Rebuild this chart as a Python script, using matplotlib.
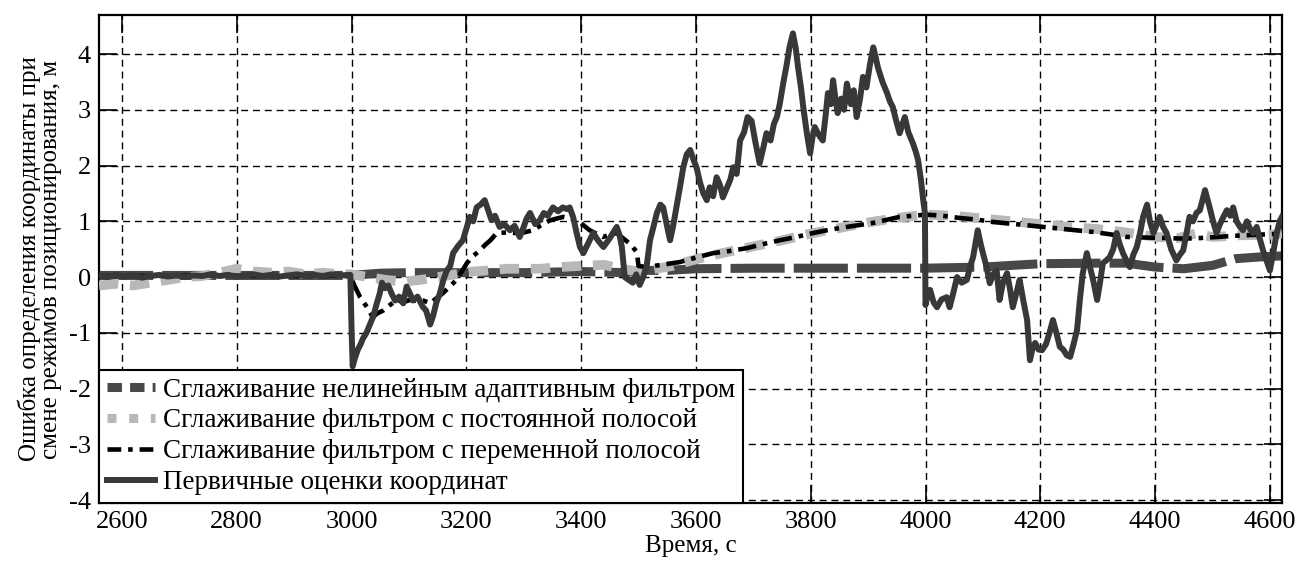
import matplotlib
matplotlib.use("Agg")
import matplotlib.pyplot as plt
from matplotlib.lines import Line2D

# --- шрифты ---
plt.rcParams['font.family'] = ['Liberation Serif', 'DejaVu Serif']
plt.rcParams['axes.unicode_minus'] = False

# ==========================================
# Данные
# ==========================================
# первичные оценки координат
primary_pts = [
    (2560, 0.03), (2575, 0.0), (2590, 0.04), (2605, 0.01), (2620, 0.03), (2635, -0.01),
    (2650, 0.02), (2665, 0.04), (2680, 0.01), (2695, 0.03), (2710, 0.0), (2725, 0.03),
    (2740, 0.02), (2755, 0.05), (2770, 0.02), (2785, 0.04), (2800, 0.01), (2815, 0.03),
    (2830, 0.05), (2845, 0.02), (2860, 0.04), (2875, 0.01), (2890, 0.03), (2905, 0.05),
    (2920, 0.02), (2935, 0.04), (2950, 0.02), (2965, 0.05), (2980, 0.03), (2998, 0.04),
    (3000, -0.9), (3002, -1.6), (3006, -1.45), (3011, -1.3), (3016, -1.2), (3020, -1.1),
    (3026, -1.0), (3032, -0.85), (3038, -0.7), (3044, -0.47), (3049, -0.3), (3053, -0.1),
    (3058, -0.2), (3064, -0.15), (3070, -0.3), (3076, -0.42), (3083, -0.35), (3090, -0.47),
    (3096, -0.17), (3102, -0.3), (3107, -0.42), (3115, -0.35), (3124, -0.53), (3130, -0.6),
    (3137, -0.85), (3142, -0.7), (3148, -0.45), (3154, -0.29), (3160, -0.05), (3166, 0.12),
    (3172, 0.2), (3177, 0.43), (3185, 0.55), (3194, 0.66), (3201, 0.9), (3206, 1.08),
    (3212, 1.0), (3218, 1.25), (3225, 1.3), (3232, 1.38), (3238, 1.2), (3244, 1.02),
    (3250, 1.1), (3258, 0.9), (3266, 0.95), (3276, 0.84), (3284, 0.92), (3293, 0.72),
    (3300, 0.9), (3305, 1.05), (3311, 1.15), (3320, 0.95), (3328, 1.02), (3335, 1.15),
    (3342, 1.1), (3351, 1.25), (3360, 1.18), (3368, 1.25), (3375, 1.22), (3380, 1.25),
    (3386, 1.08), (3392, 0.8), (3398, 0.54), (3404, 0.43), (3412, 0.6), (3421, 0.79),
    (3430, 0.65), (3439, 0.54), (3450, 0.7), (3462, 0.9), (3467, 0.75), (3471, 0.54),
    (3476, 0.0), (3483, -0.05), (3490, -0.1), (3496, 0.05), (3502, -0.14), (3508, 0.0),
    (3514, 0.18), (3520, 0.66), (3526, 0.9), (3532, 1.15), (3538, 1.3), (3543, 1.25),
    (3549, 0.95), (3555, 0.66), (3560, 0.9), (3566, 1.25), (3572, 1.6), (3578, 1.97),
    (3584, 2.2), (3590, 2.28), (3596, 2.1), (3601, 1.97), (3607, 1.7), (3613, 1.5),
    (3619, 1.38), (3624, 1.61), (3630, 1.45), (3636, 1.79), (3642, 1.65), (3647, 1.43),
    (3654, 1.6), (3660, 1.75), (3665, 1.97), (3671, 1.85), (3677, 2.45), (3684, 2.6),
    (3690, 2.87), (3697, 2.8), (3704, 2.4), (3711, 2.04), (3717, 2.3), (3723, 2.58),
    (3730, 2.45), (3736, 2.75), (3741, 2.87), (3746, 3.1), (3752, 3.47), (3758, 3.8),
    (3763, 4.12), (3769, 4.37), (3774, 4.1), (3778, 3.76), (3783, 3.4), (3787, 3.05),
    (3793, 2.6), (3799, 2.22), (3803, 2.5), (3807, 2.69), (3814, 2.55), (3821, 2.45),
    (3826, 2.9), (3830, 3.3), (3835, 3.1), (3839, 3.53), (3843, 3.2), (3847, 2.94),
    (3853, 3.2), (3858, 3.0), (3863, 3.47), (3870, 3.1), (3875, 3.35), (3880, 2.87),
    (3886, 3.2), (3891, 3.59), (3897, 3.4), (3903, 3.8), (3909, 4.12), (3913, 3.95),
    (3917, 3.76), (3925, 3.5), (3933, 3.3), (3938, 3.15), (3943, 3.05), (3949, 2.8),
    (3955, 2.58), (3960, 2.75), (3964, 2.87), (3970, 2.6), (3978, 2.4), (3983, 2.25),
    (3987, 2.1), (3992, 1.75), (3996, 1.38), (3999, 1.15), (4000, -0.5), (4004, -0.3),
    (4008, -0.23), (4014, -0.45), (4020, -0.54), (4028, -0.4), (4037, -0.36), (4042, -0.54),
    (4048, -0.3), (4055, 0.0), (4063, -0.1), (4072, -0.05), (4078, 0.2), (4083, 0.36),
    (4087, 0.6), (4091, 0.84), (4096, 0.6), (4100, 0.43), (4106, 0.2), (4112, -0.11),
    (4118, 0.05), (4124, 0.12), (4129, -0.41), (4135, -0.1), (4142, 0.07), (4147, -0.2),
    (4152, -0.54), (4158, -0.3), (4164, -0.05), (4170, -0.4), (4177, -0.77), (4182, -1.49),
    (4186, -1.3), (4191, -1.18), (4197, -1.3), (4203, -1.31), (4210, -1.2), (4216, -1.0),
    (4222, -0.77), (4228, -1.0), (4234, -1.25), (4240, -1.3), (4246, -1.4), (4252, -1.43),
    (4258, -1.2), (4264, -0.95), (4269, -0.4), (4274, 0.07), (4281, 0.43), (4286, 0.2),
    (4292, -0.05), (4299, -0.41), (4304, -0.1), (4309, 0.25), (4315, 0.3), (4321, 0.36),
    (4327, 0.5), (4333, 0.79), (4338, 0.6), (4344, 0.43), (4350, 0.3), (4356, 0.18),
    (4362, 0.4), (4368, 0.54), (4374, 0.8), (4379, 1.08), (4386, 1.3), (4391, 1.0),
    (4397, 0.79), (4403, 0.95), (4408, 1.08), (4414, 0.9), (4420, 0.79), (4428, 0.5),
    (4437, 0.3), (4443, 0.4), (4449, 0.48), (4455, 0.8), (4460, 1.08), (4466, 1.0),
    (4472, 1.15), (4478, 1.2), (4483, 1.4), (4487, 1.56), (4491, 1.4), (4495, 1.25),
    (4501, 1.0), (4507, 0.79), (4513, 0.95), (4519, 1.08), (4525, 1.2), (4531, 1.1),
    (4536, 1.25), (4542, 1.0), (4548, 0.9), (4553, 0.84), (4560, 1.0), (4566, 0.85),
    (4571, 0.79), (4577, 0.9), (4582, 0.7), (4588, 0.48), (4594, 0.3), (4600, 0.12),
    (4606, 0.45), (4612, 0.79), (4617, 1.0), (4621, 1.08),
]

# фильтр с переменной полосой
variable_pts = [
    (2560, 0.02), (2650, 0.02), (2750, 0.03), (2850, 0.02), (2950, 0.02), (2998, 0.02),
    (3005, -0.15), (3015, -0.36), (3027, -0.54), (3037, -0.72), (3045, -0.65), (3055, -0.6),
    (3067, -0.5), (3079, -0.41), (3090, -0.45), (3102, -0.41), (3115, -0.43), (3125, -0.42),
    (3137, -0.47), (3148, -0.38), (3159, -0.29), (3170, -0.18), (3183, -0.05), (3192, 0.1),
    (3201, 0.25), (3212, 0.38), (3224, 0.48), (3233, 0.58), (3242, 0.66), (3253, 0.79),
    (3270, 0.8), (3288, 0.79), (3300, 0.8), (3316, 0.84), (3330, 0.93), (3346, 1.02),
    (3369, 1.08), (3393, 1.02), (3415, 0.84), (3438, 0.72), (3450, 0.76), (3462, 0.79),
    (3475, 0.68), (3485, 0.6), (3497, 0.45), (3500, 0.2), (3514, 0.18), (3540, 0.22),
    (3572, 0.27), (3600, 0.35), (3630, 0.43), (3660, 0.47), (3689, 0.52), (3716, 0.59),
    (3746, 0.66), (3775, 0.72), (3804, 0.79), (3833, 0.85), (3863, 0.9), (3908, 0.97),
    (3955, 1.08), (4002, 1.12), (4030, 1.1), (4060, 1.06), (4090, 1.03), (4117, 0.99),
    (4147, 0.96), (4177, 0.93), (4205, 0.9), (4234, 0.87), (4262, 0.84), (4292, 0.81),
    (4320, 0.77), (4351, 0.72), (4380, 0.71), (4420, 0.7), (4450, 0.69), (4478, 0.7),
    (4510, 0.72), (4536, 0.74), (4580, 0.76), (4621, 0.78),
]

# фильтр с постоянной полосой
constant_pts = [
    (2560, -0.15), (2590, -0.12), (2620, -0.15), (2650, -0.1), (2680, -0.05), (2710, 0.0),
    (2740, 0.02), (2770, 0.08), (2800, 0.15), (2830, 0.1), (2860, 0.08), (2890, 0.1),
    (2920, 0.05), (2950, 0.08), (2980, 0.05), (3000, 0.05), (3030, 0.0), (3060, -0.05),
    (3090, -0.08), (3120, -0.05), (3150, 0.0), (3180, 0.05), (3210, 0.1), (3240, 0.12),
    (3270, 0.15), (3300, 0.15), (3330, 0.15), (3360, 0.18), (3400, 0.2), (3440, 0.22),
    (3470, 0.15), (3500, 0.1), (3530, 0.15), (3560, 0.2), (3600, 0.32), (3650, 0.44),
    (3700, 0.55), (3750, 0.66), (3800, 0.78), (3850, 0.88), (3900, 0.98), (3950, 1.06),
    (4000, 1.12), (4050, 1.1), (4100, 1.05), (4150, 1.0), (4200, 0.95), (4250, 0.9),
    (4300, 0.86), (4350, 0.8), (4400, 0.72), (4440, 0.7), (4470, 0.78), (4500, 0.72),
    (4550, 0.75), (4600, 0.76), (4621, 0.78),
]

# нелинейный адаптивный фильтр
adaptive_pts = [
    (2560, 0.03), (2700, 0.03), (2850, 0.03), (2998, 0.03), (3050, 0.07), (3100, 0.08),
    (3200, 0.08), (3300, 0.08), (3400, 0.1), (3480, 0.08), (3500, 0.12), (3550, 0.12),
    (3600, 0.15), (3700, 0.16), (3800, 0.16), (3900, 0.16), (4000, 0.16), (4100, 0.18),
    (4200, 0.24), (4300, 0.25), (4350, 0.25), (4400, 0.18), (4450, 0.15), (4500, 0.21),
    (4540, 0.33), (4580, 0.36), (4621, 0.38),
]

legend_labels = [
    "Сглаживание нелинейным адаптивным фильтром",
    "Сглаживание фильтром с постоянной полосой",
    "Сглаживание фильтром с переменной полосой",
    "Первичные оценки координат",
]
x_ticks = list(range(2600, 4601, 200))
y_ticks = list(range(-4, 5))

# ==========================================
# Рисунок
# ==========================================
FS_TICK = 19
FS_LAB = 18
FS_LEG = 19.5
fig = plt.figure(figsize=(12.97, 5.63), dpi=100)
ax = fig.add_axes([0.0763, 0.1066, 0.9121, 0.8668])

c_adapt, c_const, c_var, c_prim = '#484848', '#b8b8b8', 'black', '#383838'

t, v = zip(*adaptive_pts)
ax.plot(t, v, color=c_adapt, lw=6.5, dashes=(6, 1), solid_capstyle='butt', zorder=2)
t, v = zip(*constant_pts)
ax.plot(t, v, color=c_const, lw=7, dashes=(2, 1.2), zorder=3)
t, v = zip(*variable_pts)
ax.plot(t, v, color=c_var, lw=3.3, dashes=(4, 1.5, 1, 1.5), zorder=4)
t, v = zip(*primary_pts)
ax.plot(t, v, color=c_prim, lw=4.3, zorder=5)

ax.set_xlim(2560, 4621)
ax.set_ylim(-4.05, 4.70)
ax.set_xticks(x_ticks)
ax.set_yticks(y_ticks)
ax.tick_params(direction='in', length=13, width=1.2, labelsize=FS_TICK, pad=6,
               top=True, right=True)
ax.grid(True, color='black', linestyle=(0, (5, 3.5)), linewidth=1.0)
ax.set_axisbelow(True)
for s in ax.spines.values():
    s.set_linewidth(1.6)

ax.set_xlabel("Время, с", fontsize=FS_LAB, labelpad=1)
ax.set_ylabel("Ошибка определения координаты при\nсмене режимов позиционирования, м",
              fontsize=FS_LAB, linespacing=0.9, labelpad=5)

# легенда с отдельными маркерами
handles = [
    Line2D([], [], color=c_adapt, lw=6.5, dashes=(1.6, 0.9)),
    Line2D([], [], color=c_const, lw=6.5, dashes=(1.0, 1.4)),
    Line2D([], [], color=c_var, lw=3.3, dashes=(3, 1.5, 1, 1.5)),
    Line2D([], [], color=c_prim, lw=4.3),
]
leg = ax.legend(handles, legend_labels, loc='lower left', bbox_to_anchor=(0, 0),
                borderaxespad=0, fontsize=FS_LEG, handlelength=1.8, handletextpad=0.3,
                labelspacing=0.22, borderpad=0.28, fancybox=False, framealpha=1)
leg.get_frame().set_edgecolor('black')
leg.get_frame().set_linewidth(1.5)
leg.set_zorder(10)

fig.savefig("out.png", dpi=100)
